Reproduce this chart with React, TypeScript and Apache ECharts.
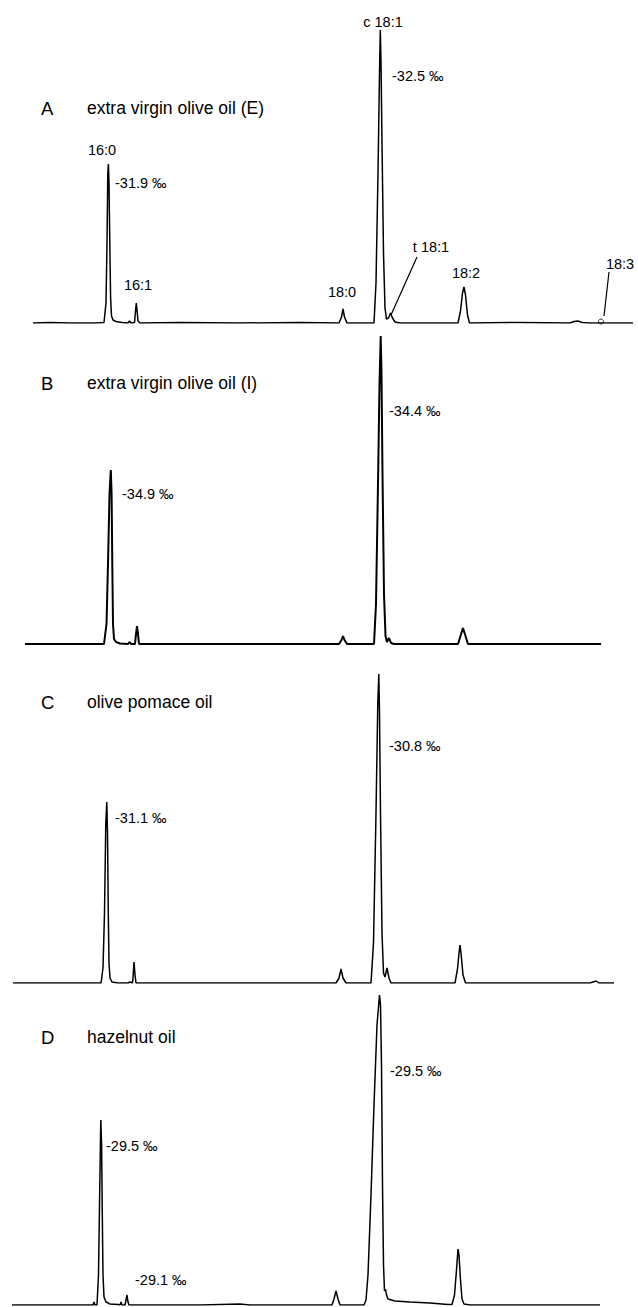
import React, { useEffect, useRef } from "react";
import * as echarts from "echarts";

// Chromatogram traces: [retention position, detector response] for each sample
const traceA: number[][] = [
  [33, 0], [50, 0.5], [70, 0], [95, 0], [104, 0.5], [106, 20], [107, 80], [107.8, 150], [108.4, 159], [109, 140],
  [109.8, 80], [110.6, 25], [111.5, 7], [113, 3], [116, 1.5], [122, 0.5], [128, 0], [129.5, 2], [131, 0],
  [134.5, 0.5], [135.5, 12], [136.3, 20], [137, 13], [138, 2], [140, 0], [180, 0.5], [240, 0], [300, 0.5],
  [339, 0], [341.5, 6], [343, 14], [344.5, 6], [347, 0], [374, 0], [376, 40], [378, 150], [379.5, 250],
  [380.3, 293], [381, 262], [382, 180], [383.5, 70], [385, 15], [386.5, 4], [388.5, 5], [390.5, 10],
  [392.5, 5], [395, 1], [400, 0], [458, 0], [460.5, 12], [462.5, 30], [464, 36], [465.5, 28], [467.5, 8],
  [469.5, 0], [520, 0.5], [570, 0], [574, 1.5], [578, 2], [582, 0.5], [590, 0], [633, 0],
];
const traceB: number[][] = [
  [25, 0], [60, 0], [104, 0], [106.5, 20], [108, 80], [109.5, 150], [110.8, 174], [111.6, 150], [112.3, 80],
  [113, 20], [114, 5], [116, 2], [120, 0.5], [128, 0], [129.5, 2], [131, 0], [135, 0], [136, 10], [137, 18],
  [138, 10], [139, 0], [200, 0], [339, 0], [341.5, 4], [343, 8], [344.5, 4], [347, 0], [374, 0], [376, 40],
  [378, 160], [379.5, 260], [380.7, 308], [381.5, 270], [382.5, 170], [384, 50], [385.5, 8], [387, 2],
  [389, 6], [391, 1], [394, 0], [458, 0], [460.5, 8], [463, 16], [465.5, 8], [468, 0], [601, 0],
];
const traceC: number[][] = [
  [13, 0], [60, 0], [101, 0], [103, 15], [104.5, 70], [105.8, 160], [106.8, 181], [107.5, 150], [108.3, 70],
  [109, 20], [110, 5], [112, 1], [118, 0], [128, 0], [130, 1], [132.5, 0], [133, 5], [134, 21], [135, 8],
  [136, 0], [200, 0], [336, 0], [339, 5], [341, 14], [343, 5], [346, 0], [371, 0], [373.5, 40], [376, 170],
  [377.8, 280], [378.8, 309], [379.5, 270], [380.5, 170], [382, 50], [383.5, 10], [385, 6], [387, 15],
  [389, 5], [391, 0], [455, 0], [457.5, 14], [459, 30], [460, 38], [461.2, 28], [463, 8], [465.5, 0],
  [590, 0], [596, 2], [599, 0], [614, 0],
];
const traceD: number[][] = [
  [12, 0], [60, 0], [93, 0], [94, 3], [95, 0], [97, 0], [98.5, 30], [99.8, 120], [100.8, 185], [101.6, 160],
  [102.3, 90], [103, 30], [104, 8], [106, 3], [110, 1], [118, 0.5], [120, 0], [121, 3], [122, 0], [125, 0],
  [126, 5], [127, 10], [128, 3], [129, 0], [200, 0], [240, 1], [250, 0], [332, 0], [334, 6], [336, 14],
  [338, 6], [340, 0], [364, 0], [366, 5], [368, 30], [371, 110], [374, 200], [377, 280], [379.5, 310],
  [380.5, 300], [381.5, 240], [382.5, 120], [383.5, 40], [384.5, 14], [385.5, 16], [386.5, 10], [388, 6],
  [395, 4], [410, 3], [430, 2], [448, 0.5], [452, 0.5], [454.5, 10], [456.5, 35], [458, 56], [459, 50],
  [460.5, 25], [462, 6], [464, 1], [470, 0], [600, 0],
];
const marker183: number[][] = [[601, 1.5]];

const panelLetters = ["A", "B", "C", "D"];
const panelTitles = [
  "extra virgin olive oil (E)",
  "extra virgin olive oil (I)",
  "olive pomace oil",
  "hazelnut oil",
];
const peakNames = ["16:0", "16:1", "18:0", "c 18:1", "t 18:1", "18:2", "18:3"];
const deltaA = ["-31.9 ‰", "-32.5 ‰"];
const deltaB = ["-34.9 ‰", "-34.4 ‰"];
const deltaC = ["-31.1 ‰", "-30.8 ‰"];
const deltaD = ["-29.5 ‰", "-29.1 ‰", "-29.5 ‰"];

const FONT = "Liberation Sans, Arial, Helvetica, sans-serif";
const baselines = [323, 644, 983, 1305];
const PANEL_H = 320;

function txt(text: string, x: number, y: number, size: number, align = "left") {
  return {
    type: "text",
    x,
    y,
    silent: true,
    style: {
      text,
      fill: "#000",
      font: `${size}px ${FONT}`,
      textAlign: align,
      textVerticalAlign: "middle",
      align,
      verticalAlign: "middle",
    },
  };
}
function lead(x1: number, y1: number, x2: number, y2: number) {
  return { type: "line", silent: true, shape: { x1, y1, x2, y2 }, style: { stroke: "#000", lineWidth: 1.2 } };
}

export default function App() {
  const ref = useRef<HTMLDivElement>(null);
  useEffect(() => {
    if (!ref.current) return;
    const chart = echarts.init(ref.current, undefined, { renderer: "svg" });
    const traces = [traceA, traceB, traceC, traceD];
    const grids = baselines.map((b) => ({ left: 0, width: 638, top: b - PANEL_H, height: PANEL_H }));
    const xAxes = grids.map((_, i) => ({ type: "value", gridIndex: i, min: 0, max: 638, show: false }));
    const yAxes = grids.map((_, i) => ({ type: "value", gridIndex: i, min: 0, max: PANEL_H, show: false }));
    const series: any[] = traces.map((t, i) => ({
      type: "line",
      xAxisIndex: i,
      yAxisIndex: i,
      data: t,
      showSymbol: false,
      symbol: "none",
      lineStyle: { color: "#000", width: i === 1 ? 2 : 1.5 },
      silent: true,
    }));
    series.push({
      type: "scatter",
      xAxisIndex: 0,
      yAxisIndex: 0,
      data: marker183,
      symbol: "circle",
      symbolSize: 5,
      itemStyle: { color: "#fff", borderColor: "#000", borderWidth: 1 },
      silent: true,
    });
    const graphic: any[] = [];
    const titleY = [108, 383, 702, 1037];
    panelLetters.forEach((l, i) => {
      graphic.push(txt(l, 41, titleY[i], 18.5));
      graphic.push(txt(panelTitles[i], 87, titleY[i], 17.5));
    });
    // panel A peak labels
    graphic.push(txt(peakNames[0], 102, 150, 14.5, "center"));
    graphic.push(txt(peakNames[1], 138, 285, 14.5, "center"));
    graphic.push(txt(peakNames[2], 342, 292, 14.5, "center"));
    graphic.push(txt(peakNames[3], 383, 22, 14.5, "center"));
    graphic.push(txt(peakNames[4], 431, 247, 14.5, "center"));
    graphic.push(txt(peakNames[5], 466, 273, 14.5, "center"));
    graphic.push(txt(peakNames[6], 620, 264, 14.5, "center"));
    graphic.push(lead(417, 257, 391, 315));
    graphic.push(lead(609, 272, 604, 316));
    graphic.push(txt(deltaA[0], 115, 183, 14.5));
    graphic.push(txt(deltaA[1], 392, 76, 14.5));
    graphic.push(txt(deltaB[0], 122, 494, 14.5));
    graphic.push(txt(deltaB[1], 389, 411, 14.5));
    graphic.push(txt(deltaC[0], 115, 818, 14.5));
    graphic.push(txt(deltaC[1], 389, 746, 14.5));
    graphic.push(txt(deltaD[0], 106, 1146, 14.5));
    graphic.push(txt(deltaD[1], 135, 1280, 14.5));
    graphic.push(txt(deltaD[2], 390, 1071, 14.5));

    chart.setOption({
      animation: false,
      backgroundColor: "#fff",
      grid: grids,
      xAxis: xAxes,
      yAxis: yAxes,
      series,
      graphic,
    });
    return () => chart.dispose();
  }, []);
  return <div ref={ref} style={{ position: "absolute", left: 0, top: 0, width: 638, height: 1307 }} />;
}
